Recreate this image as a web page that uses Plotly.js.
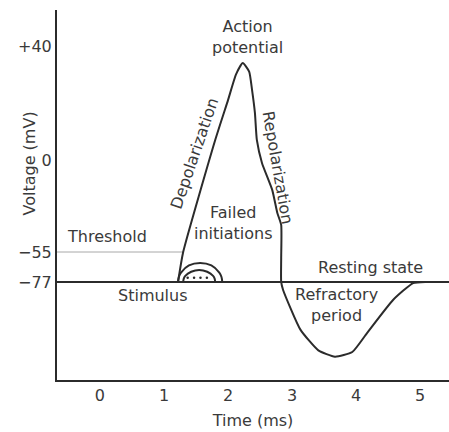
<!DOCTYPE html>
<html><head><meta charset="utf-8">
<script src="https://cdn.plot.ly/plotly-3.0.1.min.js"></script>
<style>html,body{margin:0;padding:0;background:#fff}#chart{width:449px;height:432px}</style>
</head><body><div id="chart"></div>
<script>
// ---- data ----
var timeMs      = [1.22, 1.30, 1.80, 2.00, 2.125, 2.23, 2.33, 2.375, 2.42, 2.45, 2.53, 2.69, 2.77, 2.83, 2.83, 2.83, 2.86, 3.13, 3.41, 3.67, 3.94, 4.17, 4.58, 4.89, 5.08];
var voltageMv   = [-77, -55, 7, 21, 30, 34, 31, 24.6, 16.5, 7, -1.8, -17.9, -31.7, -38.8, -59.4, -77, -78.4, -85.3, -88.9, -90, -89.2, -85.9, -80.1, -77.2, -77];
var failOuterT  = [1.22, 1.232, 1.266, 1.39, 1.565, 1.74, 1.864, 1.898, 1.91];
var failOuterV  = [-77, -73.4, -70.1, -64.8, -63, -64.8, -70.1, -73.4, -77];
var failInnerT  = [1.30, 1.309, 1.333, 1.425, 1.55, 1.675, 1.767, 1.791, 1.80];
var failInnerV  = [-77, -74.6, -72.5, -69.5, -68.2, -69.5, -72.5, -74.6, -77];
var stimDotsT   = [1.37, 1.47, 1.57, 1.67];
var stimDotsV   = [-74, -74, -74, -74];
var restingV    = -77;
var thresholdV  = -55;
var xTicks      = [0, 1, 2, 3, 4, 5];
var yTickMv     = [40, 0, -55, -77];
var yTickText   = ['+40', '0', '\u221255', '\u221277'];

// schematic (non-linear) voltage axis: anchors mV -> axis units
var anchorMv = [40, 0, -55, -77, -90];
var anchorU  = [40, 0, -32.3, -42.8, -69];
function toAxis(v){
  var n=anchorMv.length;
  for (var i=0;i<n-1;i++){
    var a=anchorMv[i], b=anchorMv[i+1];
    if ((v<=a && v>=b) || (i===0 && v>a) || (i===n-2 && v<b)){
      return anchorU[i] + (v-a)*(anchorU[i+1]-anchorU[i])/(b-a);
    }
  }
  return v;
}
function mapV(arr){return arr.map(toAxis);}

var X0=-0.67, X1=5.45;
var ink='#2b2b2b', txt='#3a3a3a', F='DejaVu Sans, sans-serif';

var traces=[
  {x:[X0,1.30], y:mapV([thresholdV,thresholdV]), mode:'lines', line:{color:'#a8a8a8', width:1}, hoverinfo:'skip'},
  {x:[X0,X1], y:mapV([restingV,restingV]), mode:'lines', line:{color:ink, width:2}, hoverinfo:'skip'},
  {x:timeMs, y:mapV(voltageMv), mode:'lines', line:{color:ink, width:2, shape:'spline', smoothing:0.5}},
  {x:failOuterT, y:mapV(failOuterV), mode:'lines', line:{color:ink, width:2, shape:'spline', smoothing:1}},
  {x:failInnerT, y:mapV(failInnerV), mode:'lines', line:{color:ink, width:2, shape:'spline', smoothing:1}},
  {x:stimDotsT, y:mapV(stimDotsV), mode:'markers', marker:{color:ink, size:2.5}}
];

function ann(text,x,y,opt){
  var a={text:text,x:x,y:y,xref:'x',yref:'y',showarrow:false,font:{family:F,size:16,color:txt}};
  for (var k in opt) a[k]=opt[k];
  return a;
}

var layout={
  width:449, height:432,
  margin:{l:57,r:0,t:10,b:52},
  paper_bgcolor:'#fff', plot_bgcolor:'#fff',
  showlegend:false,
  font:{family:F, color:txt, size:16},
  xaxis:{range:[X0,X1], tickvals:xTicks, ticks:'', showgrid:false, zeroline:false,
         showline:true, linecolor:ink, linewidth:2,
         tickfont:{size:16,color:txt},
         title:{text:'Time (ms)', font:{size:16,color:txt}, standoff:11}},
  yaxis:{range:[-77.2,52.6], tickvals:mapV(yTickMv), ticktext:yTickText, ticks:'', showgrid:false, zeroline:false,
         showline:true, linecolor:ink, linewidth:2,
         tickfont:{size:16,color:txt}},
  annotations:[
    {text:'Voltage (mV)', xref:'paper', yref:'paper', x:-0.0995, y:0.5865, textangle:-90,
     showarrow:false, font:{family:F,size:16,color:txt}},
    ann('Action<br>potential', 2.30, 43.2, {}),
    ann('Depolarization', 1.48, 2.1, {textangle:-71}),
    ann('Repolarization', 2.77, -2.8, {textangle:80}),
    ann('Failed<br>initiations', 2.08, -22.1, {}),
    ann('Threshold', -0.55, -27, {xanchor:'left'}),
    ann('Stimulus', 0.83, -47.7, {}),
    ann('Resting state', 4.23, -37.9, {}),
    ann('Refractory<br>period', 3.70, -50.9, {})
  ]
};
Plotly.newPlot('chart', traces, layout, {staticPlot:true, displayModeBar:false});
</script></body></html>
